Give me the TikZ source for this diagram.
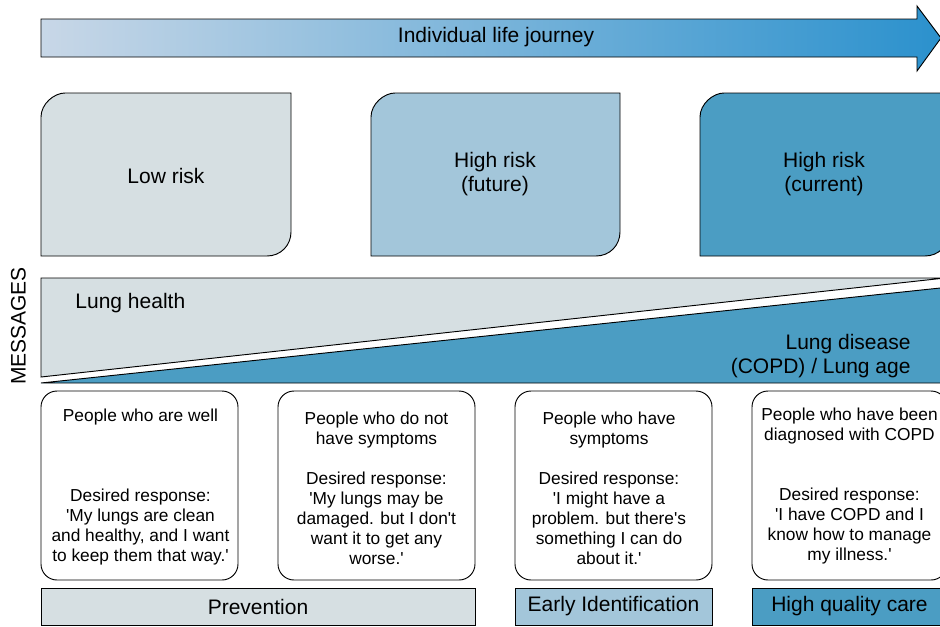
\documentclass[tikz,border=0pt]{standalone}
\usepackage{fontspec}
\setmainfont{Liberation Sans}[Ligatures=TeXOff]
\definecolor{cgray}{RGB}{214,223,226}
\definecolor{clight}{RGB}{163,198,218}
\definecolor{cdark}{RGB}{75,157,195}
\definecolor{arrL}{RGB}{200,215,231}
\definecolor{arrR}{RGB}{43,145,205}
\begin{document}
\begin{tikzpicture}[x=0.75pt,y=-0.75pt,line width=0.7pt,
  big/.style={font=\fontsize{15.75}{18}\selectfont,align=center,inner sep=0pt},
  small/.style={font=\fontsize{13}{15}\selectfont,align=center},
  msgbox/.style={draw=black,fill=white,rounded corners=12pt,small,minimum width=147.75pt,minimum height=141.75pt,inner sep=2pt},
  bar/.style={draw=black,big,minimum height=27.75pt,inner sep=0pt},
  riskbox/.style={draw=black}]
\useasboundingbox (0,0) rectangle (940,626);
\clip (0,0) rectangle (940,626);
% top arrow
\shadedraw[left color=arrL,right color=arrR,draw=black]
  (41,19) -- (917,19) -- (917,6) -- (941,38) -- (917,71) -- (917,57) -- (41,57) -- cycle;
\node[big] (journey) at (496,37) {Individual life journey};
% risk boxes
\filldraw[riskbox,fill=cgray] (41,256) -- (41,117) .. controls (41,103.8) and (54.2,93) .. (65,93) -- (291,93) -- (291,232) .. controls (291,245.2) and (280.8,256) .. (267,256) -- cycle;
\filldraw[riskbox,fill=clight] (371,256) -- (371,117) .. controls (371,103.8) and (384.2,93) .. (395,93) -- (620,93) -- (620,232) .. controls (620,245.2) and (609.8,256) .. (596,256) -- cycle;
\filldraw[riskbox,fill=cdark] (700,256) -- (700,117) .. controls (700,103.8) and (713.2,93) .. (724,93) -- (949,93) -- (949,232) .. controls (949,245.2) and (938.8,256) .. (925,256) -- cycle;
\node[big] (low) at (166,176) {Low risk};
\node[big] (hfut) at (495,174) {High risk\\(future)};
\node[big] (hcur) at (824,174) {High risk\\(current)};
% messages band
\filldraw[draw=black,fill=cgray] (41,278) -- (945,278) -- (41,377) -- cycle;
\filldraw[draw=black,fill=cdark] (41,383) -- (945,287.5) -- (945,383) -- cycle;
\node[big,anchor=west] (health) at (75,303.5) {Lung health};
\node[big,anchor=east,align=right] (disease) at (911,356) {Lung disease\\(COPD) / Lung age};
\node[big,rotate=90] (messages) at (18.5,326) {MESSAGES};
% message boxes
\node[msgbox] (m1) at (139.5,485.5) {};
\node[small] (t1) at (140.5,487.5) {People who are well\\[45pt]Desired response:\\'My lungs are clean\\and healthy, and I want\\to keep them that way.'};
\node[msgbox] (m2) at (376.5,485.5) {};
\node[small] (t2) at (376.5,488) {People who do not\\have symptoms\\[15pt]Desired response:\\'My lungs may be\\damaged. but I don't\\want it to get any\\worse.'};
\node[msgbox] (m3) at (613.5,485.5) {};
\node[small] (t3) at (609,488) {People who have\\symptoms\\[15pt]Desired response:\\'I might have a\\problem. but there's\\something I can do\\about it.'};
\node[msgbox,minimum width=146.25pt] (m4) at (849.5,485.5) {};
\node[small] (t4) at (849.5,486.5) {People who have been\\diagnosed with COPD\\[30pt]Desired response:\\'I have COPD and I\\know how to manage\\my illness.'};
% bars
\node[bar,fill=cgray,minimum width=325.5pt] (prev) at (258,606.5) {Prevention};
\node[bar,fill=clight,minimum width=147.75pt] (early) at (613.5,606.5) {Early Identification};
\node[bar,fill=cdark,minimum width=146.25pt] (care) at (849.5,606.5) {High quality care};
\end{tikzpicture}
\end{document}
